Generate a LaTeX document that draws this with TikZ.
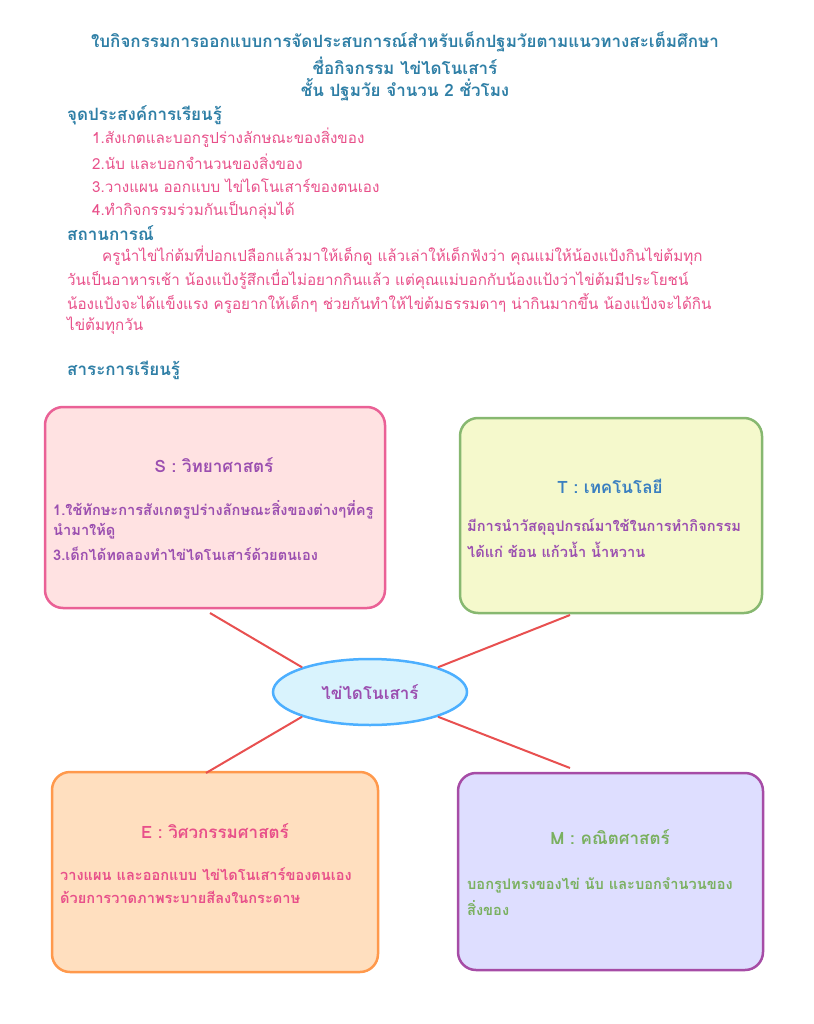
\documentclass[tikz,border=0pt]{standalone}
\usepackage{fontspec}
\newfontfamily\thai[Script=Thai]{Loma}
\usetikzlibrary{shapes.geometric}
\definecolor{titleblue}{HTML}{2F7FA6}
\definecolor{pinktxt}{HTML}{E8508A}
\definecolor{purptxt}{HTML}{9B4FB0}
\definecolor{bluetxt}{HTML}{3A7FC0}
\definecolor{greentxt}{HTML}{7AB060}
\definecolor{linkred}{HTML}{E85050}
\tikzset{
  txt/.style={anchor=west, inner sep=0pt, font=\thai\fontsize{15.2}{18}\selectfont},
  boxtxt/.style={anchor=west, inner sep=0pt, font=\thai\bfseries\fontsize{14.6}{17}\selectfont},
  head/.style={inner sep=0pt, font=\thai\bfseries\fontsize{17}{20}\selectfont},
  topic/.style={draw, line width=2.5pt, rounded corners=18pt},
  link/.style={draw=linkred, line width=2pt}
}
\begin{document}
\begin{tikzpicture}[x=1pt,y=-1pt]
\useasboundingbox (0,0) rectangle (813,1024);
% title
\node[head, titleblue] (t1) at (405,42) {ใบกิจกรรมการออกแบบการจัดประสบการณ์สำหรับเด็กปฐมวัยตามแนวทางสะเต็มศึกษา};
\node[head, titleblue] (t2) at (405,66) {ชื่อกิจกรรม ไข่ไดโนเสาร์};
\node[head, titleblue] (t3) at (405,90) {ชั้น ปฐมวัย จำนวน  2  ชั่วโมง};
% objectives
\node[head, titleblue, anchor=west] (obj) at (67,115) {จุดประสงค์การเรียนรู้};
\node[txt, pinktxt] (o1) at (92,138) {1.สังเกตและบอกรูปร่างลักษณะของสิ่งของ};
\node[txt, pinktxt] (o2) at (92,162) {2.นับ และบอกจำนวนของสิ่งของ};
\node[txt, pinktxt] (o3) at (92,186) {3.วางแผน ออกแบบ ไข่ไดโนเสาร์ของตนเอง};
\node[txt, pinktxt] (o4) at (92,210) {4.ทำกิจกรรมร่วมกันเป็นกลุ่มได้};
% situation
\node[head, titleblue, anchor=west] (sit) at (67,233) {สถานการณ์};
\node[txt, pinktxt] (p1) at (102,256) {ครูนำไข่ไก่ต้มที่ปอกเปลือกแล้วมาให้เด็กดู แล้วเล่าให้เด็กฟังว่า คุณแม่ให้น้องแป้งกินไข่ต้มทุก};
\node[txt, pinktxt] (p2) at (67,280) {วันเป็นอาหารเช้า น้องแป้งรู้สึกเบื่อไม่อยากกินแล้ว แต่คุณแม่บอกกับน้องแป้งว่าไข่ต้มมีประโยชน์};
\node[txt, pinktxt] (p3) at (67,303) {น้องแป้งจะได้แข็งแรง ครูอยากให้เด็กๆ ช่วยกันทำให้ไข่ต้มธรรมดาๆ น่ากินมากขึ้น น้องแป้งจะได้กิน};
\node[txt, pinktxt] (p4) at (67,326) {ไข่ต้มทุกวัน};
\node[head, titleblue, anchor=west] (sub) at (67,370) {สาระการเรียนรู้};
% boxes
\draw[topic, draw=pinktxt!90, fill=pink!45] (45,407) rectangle (385,608);
\draw[topic, draw=greentxt!90, fill=yellow!25!lime!20] (460,418) rectangle (762,613);
\draw[topic, draw=orange!60!pink, fill=orange!25] (52,772) rectangle (378,972);
\draw[topic, draw=violet!70, fill=blue!13] (458,773) rectangle (763,970);
\node[head, purptxt] (sh) at (214,465) {S : วิทยาศาสตร์};
\node[boxtxt, purptxt] (s1) at (53,510) {1.ใช้ทักษะการสังเกตรูปร่างลักษณะสิ่งของต่างๆที่ครู};
\node[boxtxt, purptxt] (s2) at (53,531) {นำมาให้ดู};
\node[boxtxt, purptxt] (s3) at (53,554) {3.เด็กได้ทดลองทำไข่ไดโนเสาร์ด้วยตนเอง};
\node[head, bluetxt] (th) at (610,486) {T : เทคโนโลยี};
\node[boxtxt, purptxt] (tb1) at (467,527) {มีการนำวัสดุอุปกรณ์มาใช้ในการทำกิจกรรม};
\node[boxtxt, purptxt] (tb2) at (467,550) {ได้แก่ ช้อน แก้วน้ำ น้ำหวาน};
\node[head, pinktxt] (eh) at (215,831) {E : วิศวกรรมศาสตร์};
\node[boxtxt, pinktxt] (e1) at (60,874) {วางแผน และออกแบบ ไข่ไดโนเสาร์ของตนเอง};
\node[boxtxt, pinktxt] (e2) at (60,897) {ด้วยการวาดภาพระบายสีลงในกระดาษ};
\node[head, greentxt] (mh) at (610,837) {M : คณิตศาสตร์};
\node[boxtxt, greentxt] (m1) at (467,885) {บอกรูปทรงของไข่   นับ และบอกจำนวนของ};
\node[boxtxt, greentxt] (m2) at (467,908) {สิ่งของ};
% centre
\node[ellipse, draw=blue!45!cyan!70, line width=2.5pt, fill=cyan!15,
  minimum width=194pt, minimum height=66pt, head, text=purptxt] (egg) at (370,692) {ไข่ไดโนเสาร์};
% links
\coordinate (sEnd) at (210,613);
\coordinate (tEnd) at (570,615);
\coordinate (eEnd) at (206,773);
\coordinate (mEnd) at (570,768);
\draw[link] (sEnd) -- (egg.160);
\draw[link] (tEnd) -- (egg.20);
\draw[link] (eEnd) -- (egg.-160);
\draw[link] (mEnd) -- (egg.-20);
\end{tikzpicture}
\end{document}
